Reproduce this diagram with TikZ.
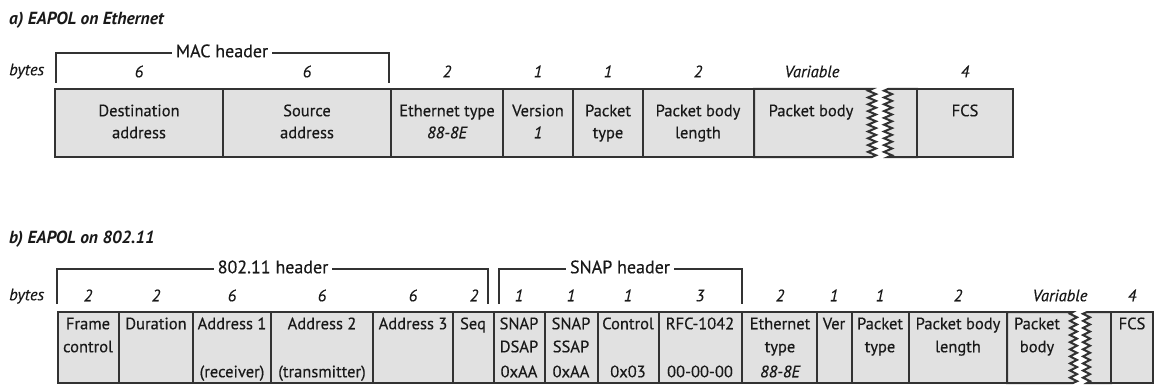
\documentclass[tikz,border=0pt]{standalone}
\usepackage{fontspec}
\setmainfont{PT Sans}
\newfontfamily\heavy{PT Sans}[FakeBold=0.35]
\usetikzlibrary{fit}
\definecolor{fillg}{RGB}{225,225,225}
\definecolor{linec}{RGB}{50,50,50}
\definecolor{txtc}{RGB}{25,25,25}
\begin{document}
\begin{tikzpicture}[x=1pt,y=-1pt,
  fld/.style={draw=linec, fill=fillg, line width=2pt, inner sep=0pt},
  lbl/.style={text=txtc, font=\heavy\fontsize{16.5}{18}\selectfont, inner sep=0pt, text height=12pt, text depth=3.5pt},
  num/.style={lbl, font=\heavy\fontsize{16.5}{18}\selectfont\itshape},
  ttl/.style={text=txtc, font=\fontsize{17.5}{20}\selectfont\bfseries\itshape, anchor=west, inner sep=0pt, text height=12pt, text depth=3.5pt},
  brk/.style={draw=linec, line width=1.5pt},
  hdr/.style={lbl, font=\heavy\fontsize{18}{20}\selectfont, fill=white, inner xsep=4pt, inner ysep=1pt},
  zig/.style={draw=linec, fill=fillg, line width=2pt, line join=miter}
]
\useasboundingbox (0,0) rectangle (1155,385);

% ---------------- a) EAPOL on Ethernet ----------------
\node[ttl] (ta) at (9,20) {a) EAPOL on Ethernet};
\node[num, anchor=west] (bya) at (9,71) {bytes};

% MAC header bracket
\coordinate (macL) at (56,83);
\coordinate (macR) at (389,83);
\draw[brk] (macL) -- (56,53) -- (389,53) -- (macR);
\node[hdr] (mach) at (222,53) {MAC header};

% fields
\node[fld, fit={(55,89) (223,157)}] (dst) {};
\node[fld, fit={(223,89) (391,157)}] (src) {};
\node[fld, fit={(391,89) (503,157)}] (eth) {};
\node[fld, fit={(503,89) (573,157)}] (ver) {};
\node[fld, fit={(573,89) (643,157)}] (ptype) {};
\node[fld, fit={(643,89) (754,157)}] (plen) {};
\filldraw[zig] (754,89) -- (872,89)
  \foreach \i in {0,...,9} { -- (868,{89+6.8*\i+1.7}) -- (876,{89+6.8*\i+5.1}) }
  -- (872,157) -- (754,157) -- cycle;
\filldraw[zig] (917,89) -- (888,89)
  \foreach \i in {0,...,9} { -- (884,{89+6.8*\i+1.7}) -- (892,{89+6.8*\i+5.1}) }
  -- (888,157) -- (917,157) -- cycle;
\node[fld, fit={(917,89) (1013,157)}] (fcs) {};

% byte counts
\node[num] at (139,73) {6};
\node[num] at (307,73) {6};
\node[num] at (447,73) {2};
\node[num] at (538,73) {1};
\node[num] at (608,73) {1};
\node[num] at (698,73) {2};
\node[num] at (812,73) {Variable};
\node[num] at (965,73) {4};

% labels
\node[lbl] at (139,112) {Destination};
\node[lbl] at (139,134) {address};
\node[lbl] at (307,112) {Source};
\node[lbl] at (307,134) {address};
\node[lbl] at (447,112) {Ethernet type};
\node[num] at (447,134) {88-8E};
\node[lbl] at (538,112) {Version};
\node[num] at (538,134) {1};
\node[lbl] at (608,112) {Packet};
\node[lbl] at (608,134) {type};
\node[lbl] at (698,112) {Packet body};
\node[lbl] at (698,134) {length};
\node[lbl] at (811,112) {Packet body};
\node[lbl] at (965,112) {FCS};

% ---------------- b) EAPOL on 802.11 ----------------
\node[ttl] (tb) at (9,239) {b) EAPOL on 802.11};
\node[num, anchor=west] (byb) at (9,296) {bytes};

\coordinate (hL) at (57,304);
\coordinate (hR) at (488,304);
\draw[brk] (hL) -- (57,269) -- (488,269) -- (hR);
\node[hdr] (h80211) at (273,269) {802.11 header};
\coordinate (sL) at (499,304);
\coordinate (sR) at (742,304);
\draw[brk] (sL) -- (499,269) -- (742,269) -- (sR);
\node[hdr] (snaph) at (620,269) {SNAP header};

\node[fld, fit={(58,312) (119,383)}] (fc) {};
\node[fld, fit={(119,312) (193,383)}] (dur) {};
\node[fld, fit={(193,312) (271,383)}] (a1) {};
\node[fld, fit={(271,312) (373,383)}] (a2) {};
\node[fld, fit={(373,312) (453,383)}] (a3) {};
\node[fld, fit={(453,312) (494,383)}] (seq) {};
\node[fld, fit={(494,312) (545,383)}] (dsap) {};
\node[fld, fit={(545,312) (598,383)}] (ssap) {};
\node[fld, fit={(598,312) (659,383)}] (ctl) {};
\node[fld, fit={(659,312) (742,383)}] (rfc) {};
\node[fld, fit={(742,312) (817,383)}] (eth2) {};
\node[fld, fit={(817,312) (852,383)}] (ver2) {};
\node[fld, fit={(852,312) (909,383)}] (pt2) {};
\node[fld, fit={(909,312) (1007,383)}] (pl2) {};
\filldraw[zig] (1007,312) -- (1073,312)
  \foreach \i in {0,...,9} { -- (1070,{312+7.1*\i+1.775}) -- (1077,{312+7.1*\i+5.325}) }
  -- (1073,383) -- (1007,383) -- cycle;
\filldraw[zig] (1111,312) -- (1087,312)
  \foreach \i in {0,...,9} { -- (1083,{312+7.1*\i+1.775}) -- (1090,{312+7.1*\i+5.325}) }
  -- (1087,383) -- (1111,383) -- cycle;
\node[fld, fit={(1111,312) (1153,383)}] (fcs2) {};

% byte counts
\node[num] at (88,297) {2};
\node[num] at (156,297) {2};
\node[num] at (232,297) {6};
\node[num] at (322,297) {6};
\node[num] at (413,297) {6};
\node[num] at (474,297) {2};
\node[num] at (519,297) {1};
\node[num] at (571,297) {1};
\node[num] at (628,297) {1};
\node[num] at (700,297) {3};
\node[num] at (780,297) {2};
\node[num] at (834,297) {1};
\node[num] at (880,297) {1};
\node[num] at (958,297) {2};
\node[num] at (1060,297) {Variable};
\node[num] at (1132,297) {4};

% labels
\node[lbl] at (88,325) {Frame};
\node[lbl] at (88,348) {control};
\node[lbl] at (156,325) {Duration};
\node[lbl] at (232,325) {Address 1};
\node[lbl] at (232,373) {(receiver)};
\node[lbl] at (322,325) {Address 2};
\node[lbl] at (322,373) {(transmitter)};
\node[lbl] at (413,325) {Address 3};
\node[lbl] at (473,325) {Seq};
\node[lbl] at (519,325) {SNAP};
\node[lbl] at (519,348) {DSAP};
\node[lbl] at (519,373) {0xAA};
\node[lbl] at (571,325) {SNAP};
\node[lbl] at (571,348) {SSAP};
\node[lbl] at (571,373) {0xAA};
\node[lbl] at (628,325) {Control};
\node[lbl] at (628,373) {0x03};
\node[lbl] at (700,325) {RFC-1042};
\node[lbl] at (700,373) {00-00-00};
\node[lbl] at (780,325) {Ethernet};
\node[lbl] at (780,348) {type};
\node[num] at (780,373) {88-8E};
\node[lbl] at (834,325) {Ver};
\node[lbl] at (880,325) {Packet};
\node[lbl] at (880,348) {type};
\node[lbl] at (958,325) {Packet body};
\node[lbl] at (958,348) {length};
\node[lbl] at (1037,325) {Packet};
\node[lbl] at (1037,348) {body};
\node[lbl] at (1132,325) {FCS};
\end{tikzpicture}
\end{document}
